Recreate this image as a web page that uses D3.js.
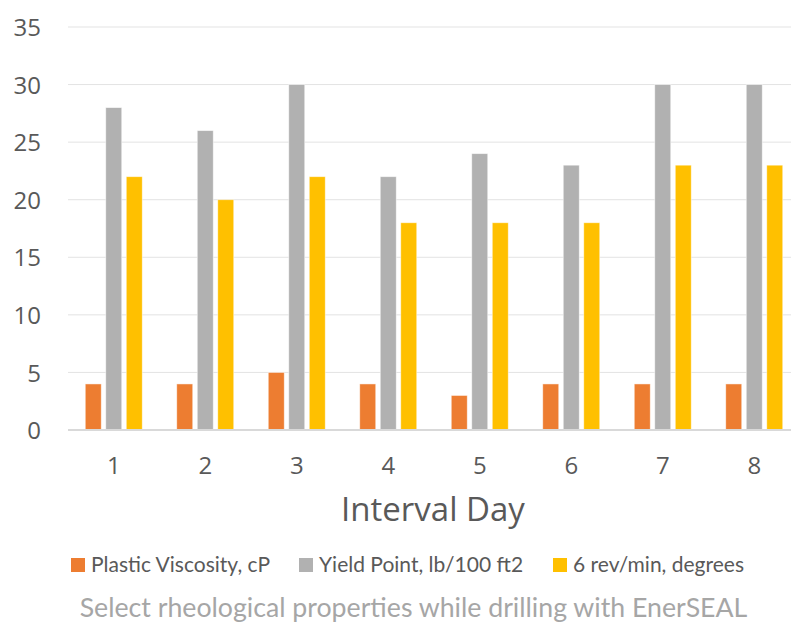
<!DOCTYPE html>
<html><head><meta charset="utf-8">
<script src="https://cdn.jsdelivr.net/npm/d3@7"></script>
<style>html,body{margin:0;padding:0;background:#fff;overflow:hidden}</style>
</head><body>
<svg id="c" width="791" height="623"></svg>
<script>
const categories = ["1","2","3","4","5","6","7","8"];
const seriesNames = ["Plastic Viscosity, cP","Yield Point, lb/100 ft2","6 rev/min, degrees"];
const plasticViscosity = [4,4,5,4,3,4,4,4];
const yieldPoint = [28,26,30,22,24,23,30,30];
const rev6 = [22,20,22,18,18,18,23,23];
const yTicks = [0,5,10,15,20,25,30,35];
const colors = ["#ED7D31","#B1B1B1","#FFC000"];
const xTitle = "Interval Day";
const caption = "Select rheological properties while drilling with EnerSEAL";

const series = [plasticViscosity, yieldPoint, rev6];
const svg = d3.select("#c");
const pLeft = 68, pRight = 800, pTop = 27, pBottom = 430;

const x = d3.scaleBand().domain(categories).range([pLeft, pRight]).paddingInner(0).paddingOuter(0);
const y = d3.scaleLinear().domain([0,35]).range([pBottom, pTop]);
const inner = d3.scaleBand().domain(d3.range(series.length)).range([0, 57]).paddingInner(0.22);
const groupOffset = (x.bandwidth() - 57) / 2;

// gridlines
svg.append("g").selectAll("line").data(yTicks.filter(d=>d>0)).join("line")
  .attr("x1", pLeft).attr("x2", 791).attr("y1", d=>y(d)).attr("y2", d=>y(d))
  .attr("stroke", "#e3e3e3").attr("stroke-width", 1);

// bars
const g = svg.append("g");
series.forEach((vals, si) => {
  g.append("g").selectAll("rect").data(vals).join("rect")
    .attr("x", (d,i) => x(categories[i]) + groupOffset + inner(si))
    .attr("y", d => y(d))
    .attr("width", inner.bandwidth())
    .attr("height", d => pBottom - y(d))
    .attr("fill", colors[si])
    .attr("stroke", "#ffffff").attr("stroke-opacity", 0.6).attr("stroke-width", 0.8);
});

// baseline
svg.append("line").attr("x1", pLeft).attr("x2", 791).attr("y1", pBottom).attr("y2", pBottom)
  .attr("stroke", "#d9d9d9").attr("stroke-width", 2);

// y axis labels
const yAxis = d3.axisLeft(y).tickValues(yTicks).tickSize(0).tickPadding(0);
const ya = svg.append("g").attr("transform", `translate(41,0)`).call(yAxis);
ya.select(".domain").remove();
ya.selectAll("text").attr("font-family","'Open Sans', sans-serif").attr("font-size", 24)
  .attr("fill","#595959").attr("dy","0.36em");

// x axis labels
const xAxis = d3.axisBottom(x).tickSize(0).tickPadding(0);
const xa = svg.append("g").attr("transform", `translate(0,457)`).call(xAxis);
xa.select(".domain").remove();
xa.selectAll("text").attr("font-family","'Open Sans', sans-serif").attr("font-size", 24).attr("fill","#595959");

// x title
svg.append("text").attr("x", 433).attr("y", 521).attr("text-anchor","middle")
  .attr("font-family","'Open Sans', sans-serif").attr("font-size", 33).attr("fill","#595959").text(xTitle);

// legend
const legX = [71, 299, 553];
const leg = svg.append("g");
seriesNames.forEach((n, i) => {
  leg.append("rect").attr("x", legX[i]).attr("y", 558).attr("width", 14).attr("height", 14).attr("fill", colors[i]);
  leg.append("text").attr("x", legX[i] + 20).attr("y", 572)
    .attr("font-family","Lato, sans-serif").attr("font-size", 21).attr("fill","#595959").text(n);
});

// caption
svg.append("text").attr("x", 413.5).attr("y", 617).attr("text-anchor","middle")
  .attr("font-family","Lato, sans-serif").attr("font-size", 26.7).attr("fill","#a6a6a6").text(caption);
</script>
</body></html>
